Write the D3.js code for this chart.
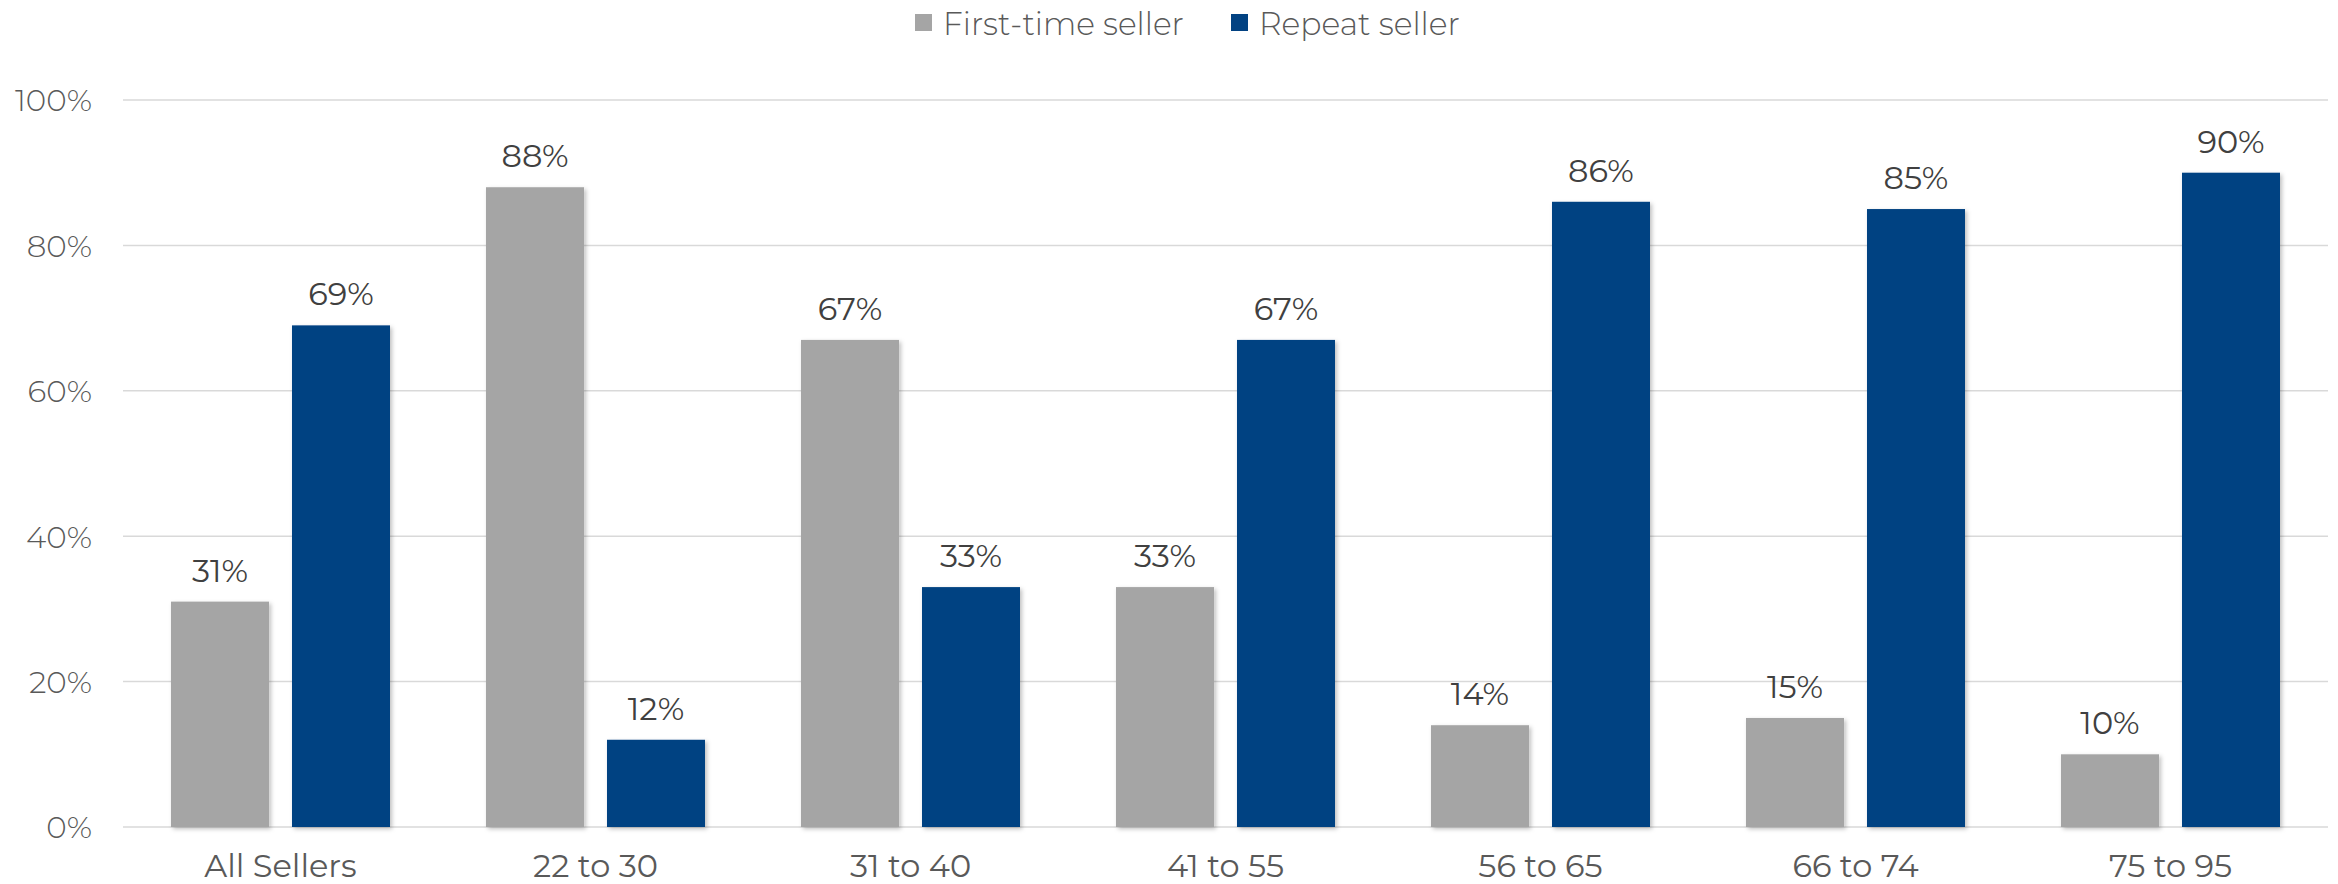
<!DOCTYPE html>
<html><head><meta charset="utf-8">
<script src="https://cdn.jsdelivr.net/npm/d3@7"></script>
<style>
html,body{margin:0;padding:0;background:#fff;}
svg text{font-family:"Montserrat","Noto Sans","Open Sans",sans-serif;}
</style></head>
<body>
<svg id="chart" width="2338" height="884"></svg>
<script>
const categories = ["All Sellers","22 to 30","31 to 40","41 to 55","56 to 65","66 to 74","75 to 95"];
const seriesNames = ["First-time seller","Repeat seller"];
const firstTime = [31,88,67,33,14,15,10];
const repeat = [69,12,33,67,86,85,90];
const yTicks = [0,20,40,60,80,100];
const colors = ["#A5A5A5","#024282"];

(function(){
const svg = d3.select("#chart");
const mLeft = 123, mRight = 2328, mTop = 100, mBottom = 827;

const defs = svg.append("defs");
const f = defs.append("filter").attr("id","sh").attr("x","-10%").attr("y","-10%").attr("width","130%").attr("height","130%");
f.append("feDropShadow").attr("dx",2).attr("dy",2).attr("stdDeviation",2).attr("flood-color","#000").attr("flood-opacity",0.25);

const x0 = d3.scaleBand().domain(categories).range([mLeft,mRight]).padding(0);
const x1 = d3.scaleBand().domain(seriesNames).range([48,267]).paddingInner(0.19).paddingOuter(0);
const y = d3.scaleLinear().domain([0,100]).range([mBottom,mTop]);

svg.append("g").selectAll("line").data(yTicks).join("line")
  .attr("x1",mLeft).attr("x2",mRight)
  .attr("y1",d=>y(d)).attr("y2",d=>y(d))
  .attr("stroke","#D9D9D9").attr("stroke-width",1.5);

const yAxis = d3.axisLeft(y).tickValues(yTicks).tickFormat(d=>d+"%").tickSize(0).tickPadding(0);
const gy = svg.append("g").attr("transform",`translate(92,0)`).call(yAxis);
gy.attr("font-family",null);
gy.select(".domain").remove();
gy.selectAll("text").attr("font-size",31).attr("font-weight",300).attr("fill","#595959").attr("dy","0.35em");

const data = categories.map((c,i)=>({cat:c, vals:[{s:seriesNames[0],v:firstTime[i]},{s:seriesNames[1],v:repeat[i]}]}));
const groups = svg.append("g").selectAll("g").data(data).join("g")
  .attr("transform",d=>`translate(${x0(d.cat)},0)`);
groups.selectAll("rect").data(d=>d.vals).join("rect")
  .attr("x",d=>x1(d.s)).attr("width",x1.bandwidth())
  .attr("y",d=>y(d.v)).attr("height",d=>y(0)-y(d.v))
  .attr("fill",(d,i)=>colors[i]).attr("filter","url(#sh)");
groups.selectAll("text").data(d=>d.vals).join("text")
  .attr("x",d=>x1(d.s)+x1.bandwidth()/2).attr("y",d=>y(d.v)-20)
  .attr("text-anchor","middle").attr("font-size",32).attr("fill","#404040")
  .text(d=>d.v+"%");

const xAxis = d3.axisBottom(x0).tickSize(0).tickPadding(0);
const gx = svg.append("g").attr("transform",`translate(0,877)`).call(xAxis);
gx.attr("font-family",null);
gx.select(".domain").remove();
gx.selectAll("text").attr("font-size",32).attr("fill","#595959").attr("dy",0);

const legend = svg.append("g");
const legX = [915, 1231];
const legW = [241, 201];
seriesNames.forEach((s,i)=>{
  legend.append("rect").attr("x",legX[i]).attr("y",14).attr("width",17).attr("height",17).attr("fill",colors[i]);
  const t = legend.append("text").attr("x",legX[i]+28).attr("y",35).attr("font-size",32).attr("font-weight",300).attr("fill","#595959").text(s);
  const w = t.node().getComputedTextLength();
  if (w > 0) t.attr("font-size", 32*legW[i]/w);
});
})();
</script>
</body></html>
